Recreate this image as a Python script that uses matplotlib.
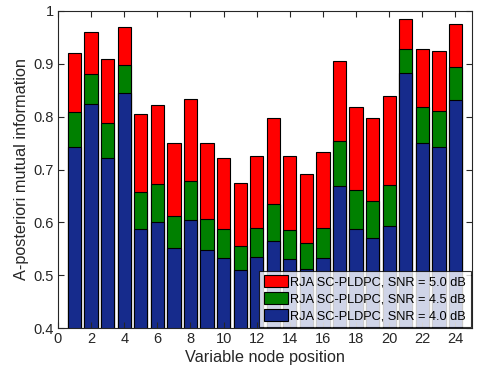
import matplotlib
matplotlib.use("Agg")
import matplotlib.pyplot as plt
import numpy as np

plt.rcParams['font.family'] = ['Liberation Sans', 'DejaVu Sans']

positions = list(range(1, 25))
snr50 = [0.920, 0.961, 0.909, 0.969, 0.805, 0.822, 0.751, 0.833, 0.751, 0.722, 0.674, 0.726,
         0.798, 0.725, 0.691, 0.733, 0.905, 0.818, 0.798, 0.840, 0.985, 0.928, 0.924, 0.975]
snr45 = [0.808, 0.880, 0.788, 0.897, 0.657, 0.672, 0.612, 0.679, 0.607, 0.588, 0.556, 0.589,
         0.634, 0.586, 0.561, 0.590, 0.754, 0.661, 0.641, 0.670, 0.929, 0.818, 0.810, 0.894]
snr40 = [0.742, 0.824, 0.721, 0.844, 0.588, 0.600, 0.551, 0.604, 0.548, 0.533, 0.509, 0.534,
         0.565, 0.530, 0.512, 0.533, 0.668, 0.587, 0.570, 0.593, 0.882, 0.751, 0.743, 0.832]
labels = ['RJA SC-PLDPC, SNR = 5.0 dB', 'RJA SC-PLDPC, SNR = 4.5 dB', 'RJA SC-PLDPC, SNR = 4.0 dB']

fig = plt.figure(figsize=(4.81, 3.77), dpi=100)
ax = fig.add_axes([58/481, 1-328/377, (472-58)/481, (328-11)/377])

kw = dict(width=0.8, edgecolor='black', linewidth=0.8)
ax.bar(positions, snr50, color='#FF0000', label=labels[0], **kw)
ax.bar(positions, snr45, color='#008000', label=labels[1], **kw)
ax.bar(positions, snr40, color='#162B8C', label=labels[2], **kw)

ax.set_xlim(0, 25)
ax.set_ylim(0.4, 1.0)
ax.set_xticks(range(0, 25, 2))
ax.set_yticks([0.4, 0.5, 0.6, 0.7, 0.8, 0.9, 1.0])
ax.set_yticklabels(['0.4', '0.5', '0.6', '0.7', '0.8', '0.9', '1'])
ax.tick_params(direction='in', top=True, right=True, labelsize=10.5, colors='#262626', length=4, pad=3)
for s in ax.spines.values():
    s.set_color('#262626')
    s.set_linewidth(0.8)
ax.set_xlabel('Variable node position', fontsize=11.7, color='#262626', labelpad=3)
ax.set_ylabel('A-posteriori mutual information', fontsize=11.7, color='#262626', labelpad=3)

leg = ax.legend(loc='lower right', bbox_to_anchor=(1.0, 0.0), fontsize=9.2, frameon=True, fancybox=False,
                edgecolor='black', borderaxespad=0.1, handlelength=1.9, handleheight=1.0,
                labelspacing=0.3, borderpad=0.35, handletextpad=0.2)
leg.get_frame().set_linewidth(0.8)

fig.savefig('out.png', dpi=100)
